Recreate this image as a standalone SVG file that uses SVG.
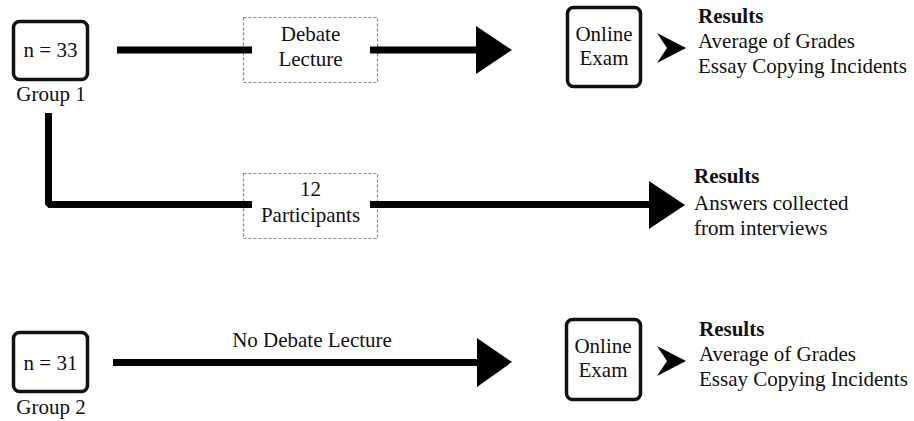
<svg xmlns="http://www.w3.org/2000/svg" width="914" height="421" viewBox="0 0 914 421">
<style>
text{font-family:"Liberation Serif","Times New Roman",serif;font-size:21px;fill:#111}
.c{text-anchor:middle}
.b{font-weight:bold}
.box{fill:#fff;stroke:#111;stroke-width:3.5}
.dash{fill:#fff;stroke:#888;stroke-width:1.2;stroke-dasharray:3 2}
.ln{fill:none;stroke:#000;stroke-width:7}
.head{fill:#000}
</style>
<g id="connectors">
<line class="ln" x1="117" y1="50" x2="252" y2="50"/>
<line class="ln" x1="370" y1="50" x2="478" y2="50"/>
<polygon class="head" points="476,26 512,50 476,74"/>
<polyline class="ln" points="48.5,113 48.5,204.5 252,204.5" stroke-linejoin="bevel"/>
<line class="ln" x1="370" y1="204.5" x2="651" y2="204.5"/>
<polygon class="head" points="649,181 685,205 649,229"/>
<line class="ln" x1="113" y1="362.5" x2="479" y2="362.5"/>
<polygon class="head" points="477,338 512,362 477,387"/>
<polygon class="head" points="657,33 686,48 657,63 667,48"/>
<polygon class="head" points="657,346 686,361 657,376 667,361"/>
</g>
<g id="group1">
<rect class="box" x="13.5" y="21.5" width="74" height="58" rx="6"/>
<text class="c" x="50.5" y="57">n = 33</text>
<text class="c" x="51" y="101">Group 1</text>
</g>
<g id="debate">
<rect class="dash" x="243.5" y="17.5" width="134" height="65"/>
<line class="ln" x1="243" y1="50" x2="252" y2="50"/>
<line class="ln" x1="370" y1="50" x2="379" y2="50"/>
<text class="c" x="310.5" y="41">Debate</text>
<text class="c" x="310.5" y="66">Lecture</text>
</g>
<g id="exam1">
<rect class="box" x="567.5" y="7.5" width="73" height="79" rx="6"/>
<text class="c" x="604" y="41">Online</text>
<text class="c" x="604" y="65">Exam</text>
</g>
<g id="results1">
<text class="b" x="698" y="23">Results</text>
<text x="698" y="48">Average of Grades</text>
<text x="698" y="73">Essay Copying Incidents</text>
</g>
<g id="participants">
<rect class="dash" x="243.5" y="173.5" width="134" height="65"/>
<line class="ln" x1="243" y1="204.5" x2="252" y2="204.5"/>
<line class="ln" x1="370" y1="204.5" x2="379" y2="204.5"/>
<text class="c" x="310.5" y="196">12</text>
<text class="c" x="310.5" y="222">Participants</text>
</g>
<g id="results2">
<text class="b" x="694" y="183">Results</text>
<text x="694" y="210">Answers collected</text>
<text x="694" y="235">from interviews</text>
</g>
<g id="group2">
<rect class="box" x="13.5" y="332.5" width="74" height="59" rx="6"/>
<text class="c" x="50.5" y="370">n = 31</text>
<text class="c" x="51" y="414">Group 2</text>
</g>
<g id="nodebate">
<text class="c" x="312" y="347">No Debate Lecture</text>
</g>
<g id="exam2">
<rect class="box" x="566.5" y="319.5" width="74" height="80" rx="6"/>
<text class="c" x="603" y="353">Online</text>
<text class="c" x="603" y="377">Exam</text>
</g>
<g id="results3">
<text class="b" x="699" y="336">Results</text>
<text x="699" y="361">Average of Grades</text>
<text x="699" y="386">Essay Copying Incidents</text>
</g>
</svg>
